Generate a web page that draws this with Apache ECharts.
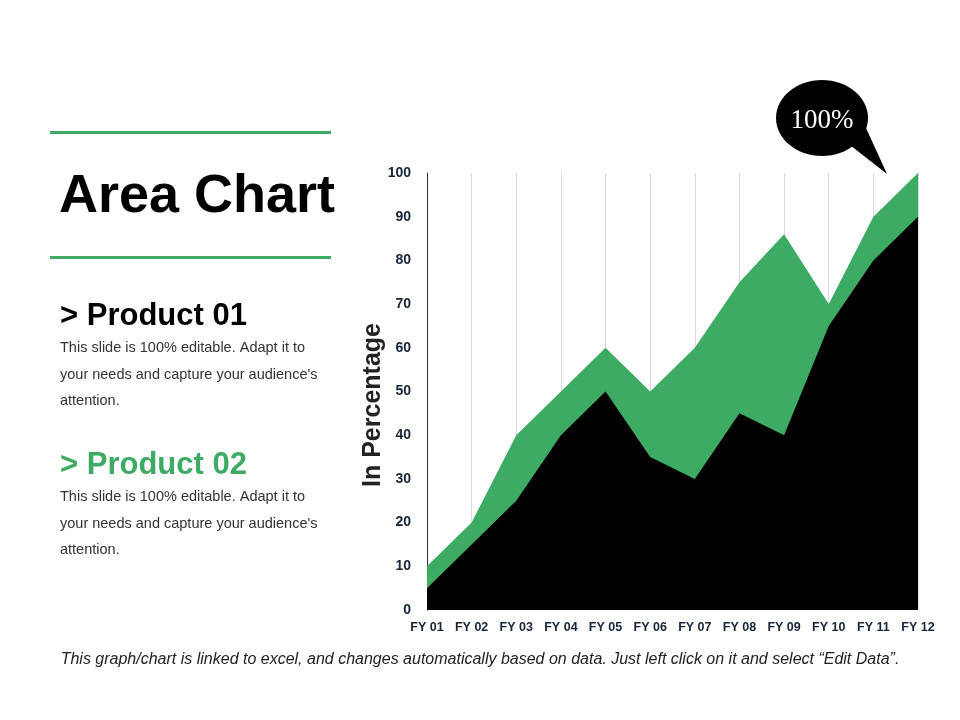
<!DOCTYPE html>
<html>
<head>
<meta charset="utf-8">
<title>Area Chart</title>
<script src="https://cdn.jsdelivr.net/npm/echarts@6/dist/echarts.min.js"></script>
<style>
  html, body { margin: 0; padding: 0; background: #fff; }
  #main { width: 960px; height: 720px; }
</style>
</head>
<body>
<div id="main"></div>
<script type="text/javascript">
// data
var years = ['FY 01', 'FY 02', 'FY 03', 'FY 04', 'FY 05', 'FY 06', 'FY 07', 'FY 08', 'FY 09', 'FY 10', 'FY 11', 'FY 12'];
var product02 = [10, 20, 40, 50, 60, 50, 60, 75, 86, 70, 90, 100];
var product01 = [5, 15, 25, 40, 50, 35, 30, 45, 40, 65, 80, 90];

var green = '#3dab63';
var bodyText = 'This slide is 100% editable. Adapt it to\nyour needs and capture your audience\'s\nattention.';

var myChart = echarts.init(document.getElementById('main'));

var option = {
    backgroundColor: '#fff',
    animation: false,
    grid: { left: 427, right: 42, top: 173, bottom: 110 },
    xAxis: {
        type: 'category',
        boundaryGap: false,
        data: years,
        axisLine: { show: false },
        axisTick: { show: false },
        axisLabel: { interval: 0, hideOverlap: false, color: '#16243a', fontWeight: 'bold', fontSize: 12.5, margin: 11, fontFamily: 'Liberation Sans, Arial' },
        splitLine: { show: true, interval: 0, lineStyle: { color: '#d9d9d9', width: 1 } }
    },
    yAxis: {
        type: 'value',
        min: 0,
        max: 100,
        interval: 10,
        axisLine: { show: true, lineStyle: { color: '#333', width: 1 } },
        axisTick: { show: false },
        splitLine: { show: false },
        axisLabel: { color: '#16243a', fontWeight: 'bold', fontSize: 14, margin: 16, fontFamily: 'Liberation Sans, Arial' }
    },
    series: [
        {
            name: 'Product 02',
            type: 'line',
            data: product02,
            symbol: 'none',
            lineStyle: { width: 0 },
            areaStyle: { color: green, opacity: 1 },
            z: 2
        },
        {
            name: 'Product 01',
            type: 'line',
            data: product01,
            symbol: 'none',
            lineStyle: { width: 0 },
            areaStyle: { color: '#000', opacity: 1 },
            z: 3
        }
    ],
    graphic: [
        { type: 'rect', shape: { x: 50, y: 131, width: 281, height: 3 }, style: { fill: green } },
        { type: 'rect', shape: { x: 50, y: 256, width: 281, height: 3 }, style: { fill: green } },
        { type: 'text', x: 59, y: 197, style: { text: 'Area Chart', fill: '#000', font: 'bold 54px "Liberation Sans", Arial', verticalAlign: 'middle' } },
        { type: 'text', x: 60, y: 316, style: { text: '> Product 01', fill: '#000', font: 'bold 31px "Liberation Sans", Arial', verticalAlign: 'middle' } },
        { type: 'text', x: 60, y: 335, style: { text: bodyText, fill: '#333', font: '14.5px "Liberation Sans", Arial', lineHeight: 26.5 } },
        { type: 'text', x: 60, y: 465, style: { text: '> Product 02', fill: green, font: 'bold 31px "Liberation Sans", Arial', verticalAlign: 'middle' } },
        { type: 'text', x: 60, y: 484, style: { text: bodyText, fill: '#333', font: '14.5px "Liberation Sans", Arial', lineHeight: 26.5 } },
        { type: 'text', x: 373, y: 405, rotation: Math.PI / 2, style: { text: 'In Percentage', fill: '#222', font: 'bold 25px "Liberation Sans", Arial', align: 'center', verticalAlign: 'middle' } },
        { type: 'text', x: 480, y: 660, style: { text: 'This graph/chart is linked to excel, and changes automatically based on data. Just left click on it and select \u201cEdit Data\u201d.', fill: '#222', font: 'italic 16px "Liberation Sans Narrow", "Liberation Sans", Arial', align: 'center', verticalAlign: 'middle' } },
        { type: 'polygon', shape: { points: [[846, 142], [866, 128], [887, 174]] }, style: { fill: '#000' } },
        { type: 'ellipse', shape: { cx: 822, cy: 118, rx: 46, ry: 38 }, style: { fill: '#000' } },
        { type: 'text', x: 822, y: 121, style: { text: '100%', fill: '#fff', font: '27px "Liberation Serif", "Times New Roman", serif', align: 'center', verticalAlign: 'middle' } }
    ]
};

myChart.setOption(option);
</script>
</body>
</html>
